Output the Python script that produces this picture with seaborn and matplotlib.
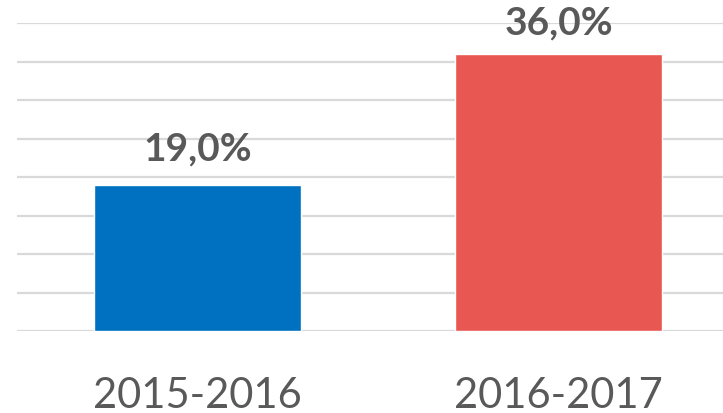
import numpy as np
import matplotlib
matplotlib.use('Agg')
import matplotlib.pyplot as plt
import seaborn as sns
import pandas as pd

sns.set_style('white')
plt.rcParams['font.family'] = ['Lato', 'DejaVu Sans']

# datos
periodos = ['2015-2016', '2016-2017']
valores = [19.0, 36.0]
colores = ['#0070C0', '#E85752']
etiquetas = ['19,0%', '36,0%']

df = pd.DataFrame({'periodo': periodos, 'valor': valores})

fig = plt.figure(figsize=(7.23, 4.14), dpi=100)
ax = fig.add_axes([17/723, 82/414, 722/723, 308/414])

sns.barplot(data=df, x='periodo', y='valor', hue='periodo', palette=colores,
            width=0.573, saturation=1, legend=False, ax=ax)

ax.set_ylim(0, 40)
ax.set_xlim(-0.5, 1.5)
ax.set_yticks(np.arange(0, 41, 5))
ax.yaxis.grid(True, color='#D9D9D9', lw=1.6)
ax.set_axisbelow(True)
ax.tick_params(axis='y', left=False, labelleft=False)
ax.tick_params(axis='x', bottom=False, pad=29, labelsize=30, labelcolor='#595959')
for s in ax.spines.values():
    s.set_visible(False)
ax.set_xlabel('')
ax.set_ylabel('')

pads = [14, 10]
for cont, lab, p in zip(ax.containers, etiquetas, pads):
    ax.bar_label(cont, labels=[lab], padding=p, fontsize=28, fontweight='bold',
                 color='#595959', clip_on=False)

fig.savefig('out.png', dpi=100)
